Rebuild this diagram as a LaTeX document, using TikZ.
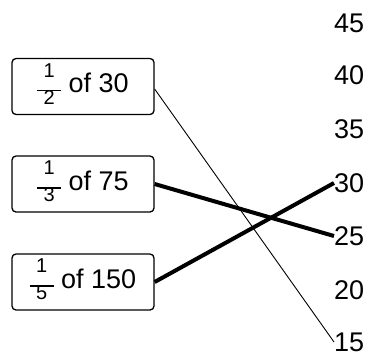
\documentclass[tikz,border=0pt]{standalone}
\usepackage{fontspec}
\setmainfont{Liberation Sans}
% small stacked fraction with a wide bar
\newcommand{\smallfrac}[2]{$\vcenter{\hbox{\fontsize{20}{20}\selectfont
  \begin{tabular}{@{}c@{}}#1\\[-6pt]\rule{24pt}{1.2pt}\\[-7pt]#2\end{tabular}}}$}
\begin{document}
\begin{tikzpicture}[x=1pt,y=-1pt,
  every node/.style={font=\fontsize{27}{30}\selectfont},
  expr/.style={draw,line width=1.3pt,rounded corners=4pt,minimum width=142pt,
    minimum height=56pt,inner sep=0pt},
  val/.style={anchor=west,inner sep=0pt},
  thin link/.style={line width=0.9pt},
  thick link/.style={line width=4pt}]
\useasboundingbox (0,0) rectangle (371,356);
\node[expr] (a) at (83,86.5) {\smallfrac{1}{2} of 30};
\node[expr] (b) at (83,184) {\smallfrac{1}{3} of 75};
\node[expr] (c) at (83,282) {\smallfrac{1}{5} of 150};
\node[val] (v45) at (334,23) {45};
\node[val] (v40) at (334,75) {40};
\node[val] (v35) at (334,129) {35};
\node[val] (v30) at (334,183) {30};
\node[val] (v25) at (334,236) {25};
\node[val] (v20) at (334,290) {20};
\node[val] (v15) at (334,342) {15};
\draw[thin link] (a.east |- 0,89) -- (v15.west);
\draw[thick link] (b.east) -- (v25.west);
\draw[thick link] (c.east) -- (v30.west);
\end{tikzpicture}
\end{document}
